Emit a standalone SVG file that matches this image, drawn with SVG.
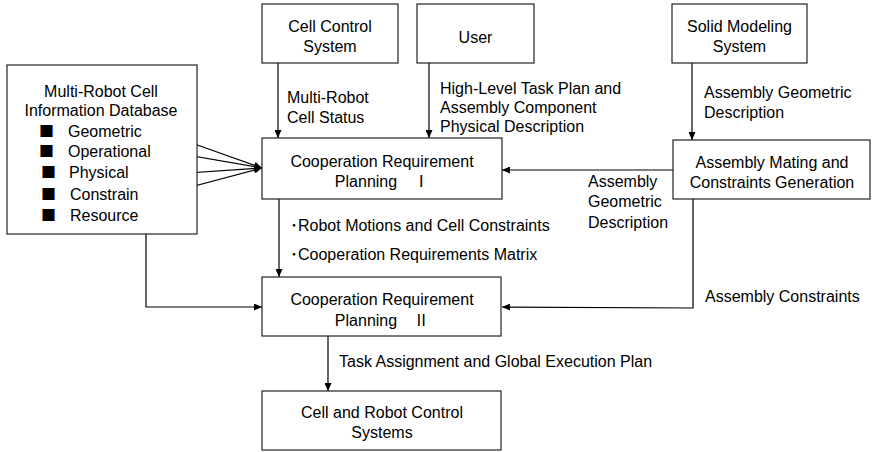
<svg xmlns="http://www.w3.org/2000/svg" width="872" height="452" viewBox="0 0 872 452">
  <defs>
    <marker id="arrow" markerWidth="8" markerHeight="7" refX="8" refY="3.5" orient="auto" markerUnits="userSpaceOnUse">
      <path d="M0,0 L8,3.5 L0,7 z" fill="#000"/>
    </marker>
  </defs>
  <style>
    .box { fill: #fff; stroke: #222; stroke-width: 1.2; }
    text { font-family: "Liberation Sans", "Noto Sans CJK JP", Arial, sans-serif; font-size: 16px; fill: #000; }
    .c { text-anchor: middle; }
    .bullet { font-family: "Noto Sans CJK JP", "Liberation Sans", sans-serif; font-size: 15px; }
    .link { fill: none; stroke: #000; stroke-width: 1.2; }
  </style>
  <rect width="872" height="452" fill="#fff"/>

  <!-- connectors -->
  <g id="connectors">
    <line class="link" x1="278" y1="63" x2="278" y2="138" marker-end="url(#arrow)"/>
    <line class="link" x1="429" y1="63" x2="429" y2="138" marker-end="url(#arrow)"/>
    <line class="link" x1="692" y1="63" x2="692" y2="140" marker-end="url(#arrow)"/>
    <line class="link" x1="673" y1="170" x2="502" y2="170" marker-end="url(#arrow)"/>
    <polyline class="link" points="693,199 693,308 502,307" marker-end="url(#arrow)"/>
    <line class="link" x1="158" y1="131" x2="262" y2="168" marker-end="url(#arrow)"/>
    <line class="link" x1="158" y1="150" x2="262" y2="168" marker-end="url(#arrow)"/>
    <line class="link" x1="158" y1="175" x2="262" y2="168" marker-end="url(#arrow)"/>
    <line class="link" x1="157" y1="196" x2="262" y2="168" marker-end="url(#arrow)"/>
    <polyline class="link" points="146,219 146,307 262,307" marker-end="url(#arrow)"/>
    <line class="link" x1="279" y1="199" x2="279" y2="277" marker-end="url(#arrow)"/>
    <line class="link" x1="328" y1="336" x2="328" y2="391" marker-end="url(#arrow)"/>

    <!-- connector labels -->
    <text x="287" y="103">Multi-Robot</text>
    <text x="287" y="123">Cell Status</text>
    <text x="440" y="94">High-Level Task Plan and</text>
    <text x="440" y="113">Assembly Component</text>
    <text x="440" y="132">Physical Description</text>
    <text x="704" y="98">Assembly Geometric</text>
    <text x="704" y="118">Description</text>
    <text x="588" y="187">Assembly</text>
    <text x="588" y="207">Geometric</text>
    <text x="588" y="228">Description</text>
    <text x="705" y="302">Assembly Constraints</text>
    <text x="290" y="231">･Robot Motions and Cell Constraints</text>
    <text x="290" y="260">･Cooperation Requirements Matrix</text>
    <text x="339" y="367">Task Assignment and Global Execution Plan</text>
  </g>

  <g id="cell-control-system">
    <rect class="box" x="262" y="4" width="136" height="59"/>
    <text class="c" x="330" y="32">Cell Control</text>
    <text class="c" x="330" y="52">System</text>
  </g>

  <g id="user">
    <rect class="box" x="417" y="4" width="117" height="59"/>
    <text class="c" x="475.5" y="43">User</text>
  </g>

  <g id="solid-modeling-system">
    <rect class="box" x="672" y="4" width="135" height="59"/>
    <text class="c" x="739.5" y="32">Solid Modeling</text>
    <text class="c" x="739.5" y="52">System</text>
  </g>

  <g id="database">
    <rect class="box" x="7" y="65" width="190" height="169"/>
    <text class="c" x="101" y="97">Multi-Robot Cell</text>
    <text class="c" x="101" y="116">Information Database</text>
    <text class="bullet" x="39" y="137">■</text>
    <text x="68" y="137">Geometric</text>
    <text class="bullet" x="39" y="157">■</text>
    <text x="68" y="157">Operational</text>
    <text class="bullet" x="41" y="178">■</text>
    <text x="69" y="178">Physical</text>
    <text class="bullet" x="41" y="200">■</text>
    <text x="70" y="200">Constrain</text>
    <text class="bullet" x="41" y="221">■</text>
    <text x="70" y="221">Resource</text>
  </g>

  <g id="crp-1">
    <rect class="box" x="262" y="138" width="240" height="61"/>
    <text class="c" x="382" y="167">Cooperation Requirement</text>
    <text class="c" x="382" y="187">Planning　Ⅰ</text>
  </g>

  <g id="assembly-mating">
    <rect class="box" x="673" y="140" width="197" height="59"/>
    <text class="c" x="772" y="168">Assembly Mating and</text>
    <text class="c" x="772" y="188">Constraints Generation</text>
  </g>

  <g id="crp-2">
    <rect class="box" x="262" y="277" width="239" height="59"/>
    <text class="c" x="382" y="305">Cooperation Requirement</text>
    <text class="c" x="382" y="326">Planning　Ⅱ</text>
  </g>

  <g id="cell-robot-control">
    <rect class="box" x="262" y="391" width="239" height="59"/>
    <text class="c" x="382" y="418">Cell and Robot Control</text>
    <text class="c" x="382" y="438">Systems</text>
  </g>
</svg>
